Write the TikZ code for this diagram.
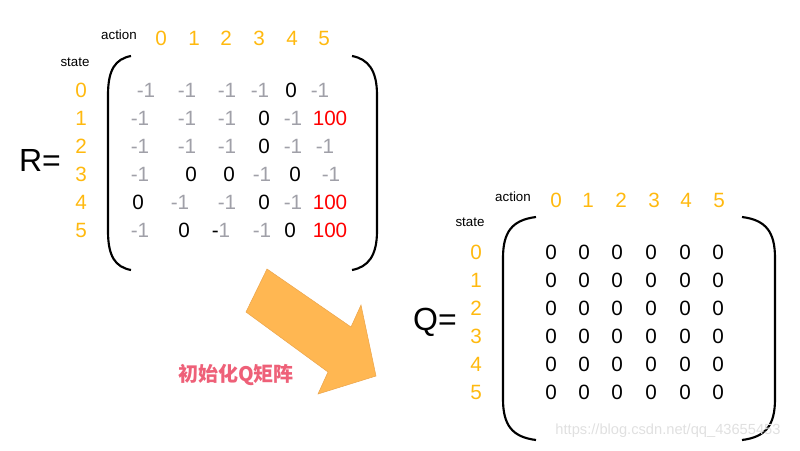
\documentclass[tikz,border=0pt]{standalone}
\usepackage{fontspec}
\setmainfont{Liberation Sans}
\newfontfamily\cjk{Noto Sans CJK SC}
\definecolor{org}{HTML}{FFB90F}
\definecolor{gr}{HTML}{A0A0A8}
\definecolor{arr}{HTML}{FFB752}
\definecolor{pk}{HTML}{EE6078}
\begin{document}
\begin{tikzpicture}[x=0.75pt,y=-0.75pt,
  num/.style={font=\fontsize{15.5}{15.5}\selectfont,inner sep=0pt},
  hd/.style={num,text=org},
  g/.style={num,text=gr},
  k/.style={num,text=black},
  rd/.style={num,text=red},
  lbl/.style={font=\fontsize{10}{10}\selectfont,inner sep=0pt},
  brk/.style={line width=1.6pt}]
\useasboundingbox (0,0) rectangle (800,450);
% R matrix
\node[lbl] (ra) at (119,35) {action};
\node[lbl] (rs) at (75,62) {state};
\node[font=\fontsize{24}{24}\selectfont,inner sep=0pt] (R) at (40,160) {R=};
\foreach \i/\x in {0/161,1/194,2/226,3/259,4/292,5/324}{\node[hd] (rh\i) at (\x,38) {\i};}
\foreach \i/\y in {0/90,1/118,2/146,3/174,4/202,5/230}{\node[hd] (rr\i) at (81,\y) {\i};}
\draw[brk] (131,56) .. controls (115,59) and (108,70) .. (108,95) -- (108,231) .. controls (108,256) and (115,267) .. (131,270);
\draw[brk] (352,56) .. controls (368,59) and (377,70) .. (377,95) -- (377,231) .. controls (377,256) and (368,267) .. (352,270);
% rows
\node[g] at (146,90) {-1}; \node[g] at (187,90) {-1}; \node[g] at (227,90) {-1}; \node[g] at (260,90) {-1}; \node[k] at (291,90) {0}; \node[g] at (320,90) {-1};
\node[g] at (140,118) {-1}; \node[g] at (187,118) {-1}; \node[g] at (227,118) {-1}; \node[k] at (264,118) {0}; \node[g] at (293,118) {-1}; \node[rd] at (330,118) {100};
\node[g] at (140,146) {-1}; \node[g] at (187,146) {-1}; \node[g] at (227,146) {-1}; \node[k] at (264,146) {0}; \node[g] at (293,146) {-1}; \node[g] at (325,146) {-1};
\node[g] at (140,174) {-1}; \node[k] at (191,174) {0}; \node[k] at (229,174) {0}; \node[g] at (262,174) {-1}; \node[k] at (295,174) {0}; \node[g] at (331,174) {-1};
\node[k] at (138,202) {0}; \node[g] at (180,202) {-1}; \node[g] at (227,202) {-1}; \node[k] at (264,202) {0}; \node[g] at (293,202) {-1}; \node[rd] at (330,202) {100};
\node[g] at (140,230) {-1}; \node[k] at (184,230) {0}; \node at (221,230) [num] {\textcolor{black}{-}\textcolor{gr}{1}}; \node[g] at (262,230) {-1}; \node[k] at (290,230) {0}; \node[rd] at (330,230) {100};
% Q matrix
\node[lbl] (qa) at (513,197) {action};
\node[lbl] (qs) at (470,222) {state};
\node[font=\fontsize{24}{24}\selectfont,inner sep=0pt] (Q) at (435,322) {Q=};
\foreach \i/\x in {0/556,1/588,2/621,3/654,4/686,5/719}{\node[hd] (qh\i) at (\x,200) {\i};}
\foreach \i/\y in {0/252,1/280,2/308,3/336,4/364,5/392}{\node[hd] (qr\i) at (476,\y) {\i};
  \foreach \x in {551,584,617,651,685,718}{\node[k] at (\x,\y) {0};}}
\draw[brk] (536,217) .. controls (512,220) and (503,232) .. (503,258) -- (503,399) .. controls (503,425) and (512,437) .. (536,440);
\draw[brk] (742,217) .. controls (766,220) and (775,232) .. (775,258) -- (775,399) .. controls (775,425) and (766,437) .. (742,440);
% arrow
\draw[fill=arr,draw=arr!70!brown,line width=0.4pt] (267,269) -- (351,327) -- (361,305) -- (376,376) -- (318,394) -- (328,372) -- (246,312) -- cycle;
\node[font=\cjk\bfseries\fontsize{15}{15}\selectfont,text=pk,inner sep=0pt] (cap) at (236,375) {初始化Q矩阵};
\node[font=\fontsize{11}{11}\selectfont,text=black!12,inner sep=0pt] (wm) at (668,431) {https://blog.csdn.net/qq\_43655453};
\end{tikzpicture}
\end{document}
